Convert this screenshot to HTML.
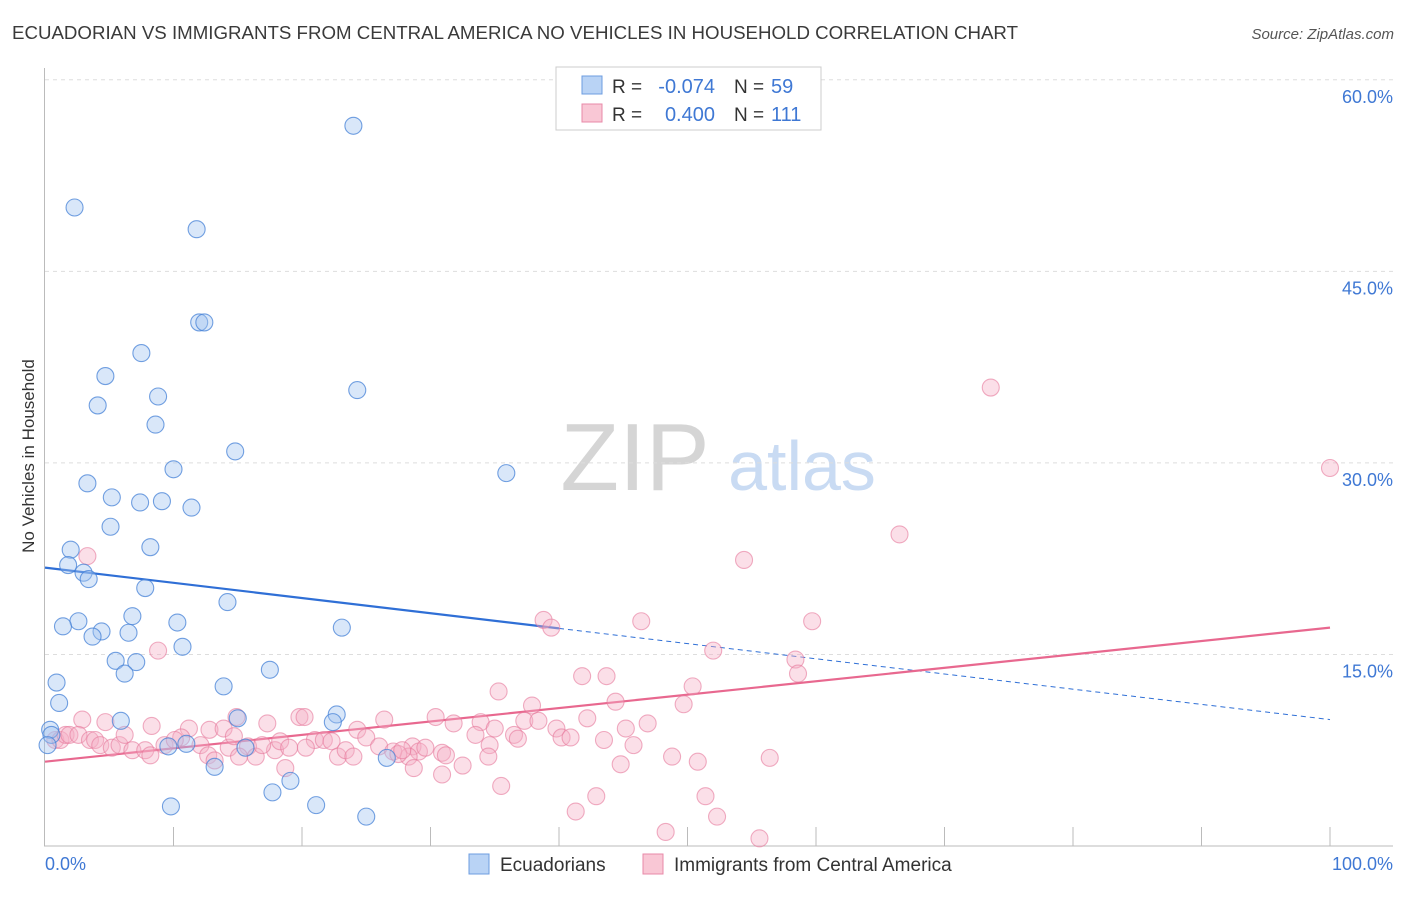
<!DOCTYPE html>
<html><head><meta charset="utf-8"><style>
body{margin:0;background:#fff;font-family:"Liberation Sans",sans-serif;}
svg text{font-family:"Liberation Sans",sans-serif;}
</style></head><body>
<svg id="chart" width="1406" height="892" xmlns="http://www.w3.org/2000/svg">
<text x="12" y="39" font-size="18" fill="#3a3a3a" textLength="1006" lengthAdjust="spacingAndGlyphs">ECUADORIAN VS IMMIGRANTS FROM CENTRAL AMERICA NO VEHICLES IN HOUSEHOLD CORRELATION CHART</text>
<text x="1394" y="39" font-size="15" fill="#555" font-style="italic" text-anchor="end">Source: ZipAtlas.com</text>
<g>
<text x="635" y="490" font-size="96" fill="#d5d5d5" font-family="Liberation Serif" text-anchor="middle">ZIP</text>
<text x="802" y="490" font-size="70" fill="#c9dbf3" text-anchor="middle">atlas</text>
</g>
<g id="grid"></g>
<g id="axes"></g>
<g id="trend"></g>
<g id="points"></g>
<text transform="translate(34,456) rotate(-90)" font-size="17" fill="#333" text-anchor="middle">No Vehicles in Household</text>
<g>
<rect x="556" y="67" width="265" height="63" fill="#fff" stroke="#ccc"/>
<rect x="582" y="76" width="20" height="18" fill="#b9d3f5" stroke="#6d9de0"/>
<rect x="582" y="104" width="20" height="18" fill="#f9c7d5" stroke="#e88aa8"/>
<text x="612" y="93" font-size="19" fill="#333">R =</text>
<text x="715" y="93" font-size="20" fill="#3f78d4" text-anchor="end">-0.074</text>
<text x="734" y="93" font-size="19" fill="#333">N =</text>
<text x="771" y="93" font-size="20" fill="#3f78d4">59</text>
<text x="612" y="121" font-size="19" fill="#333">R =</text>
<text x="715" y="121" font-size="20" fill="#3f78d4" text-anchor="end">0.400</text>
<text x="734" y="121" font-size="19" fill="#333">N =</text>
<text x="771" y="121" font-size="20" fill="#3f78d4">111</text>
</g>
<g>
<rect x="469" y="854" width="20" height="20" fill="#b9d3f5" stroke="#6d9de0"/>
<text x="500" y="871" font-size="19" fill="#333">Ecuadorians</text>
<rect x="643" y="854" width="20" height="20" fill="#f9c7d5" stroke="#e88aa8"/>
<text x="674" y="871" font-size="19" fill="#333">Immigrants from Central America</text>
</g>
</svg>
<script>
const yTicks=[15,30,45,60];
const yTickLabels=["15.0%","30.0%","45.0%","60.0%"];
const xTickLabels=["0.0%","100.0%"];
const blueX=[24.0,2.3,11.8,12.0,12.4,7.5,4.7,24.3,4.1,8.8,8.6,14.8,10.0,35.9,3.3,5.2,7.4,9.1,11.4,5.1,8.2,2.0,1.8,3.0,3.4,7.8,14.2,6.8,2.6,1.4,10.3,23.1,4.4,6.5,3.7,10.7,5.5,7.1,6.2,17.5,0.9,13.9,1.1,22.7,5.9,22.4,15.0,0.4,0.5,0.2,9.6,11.0,15.6,26.6,13.2,17.7,19.1,9.8,21.1,25.0];
const blueY=[56.4,50.0,48.3,41.0,41.0,38.6,36.8,35.7,34.5,35.2,33.0,30.9,29.5,29.2,28.4,27.3,26.9,27.0,26.5,25.0,23.4,23.2,22.0,21.4,20.9,20.2,19.1,18.0,17.6,17.2,17.5,17.1,16.8,16.7,16.4,15.6,14.5,14.4,13.5,13.8,12.8,12.5,11.2,10.3,9.8,9.7,10.0,9.1,8.7,7.9,7.8,8.0,7.7,6.9,6.2,4.2,5.1,3.1,3.2,2.3];
const pinkX=[73.6,100,66.5,54.4,3.3,38.8,39.4,46.4,59.7,8.8,52.0,58.4,58.6,41.8,43.7,35.3,50.4,44.4,49.7,37.9,42.2,46.9,45.2,2.9,4.7,8.3,14.9,17.3,19.8,20.2,26.4,30.4,31.8,33.9,37.3,38.4,39.8,11.2,12.8,10.6,13.9,15.8,17.9,18.3,21.0,21.7,22.3,24.3,25.0,28.6,29.1,28.3,29.6,33.5,35.0,34.6,36.5,36.8,40.2,40.9,43.5,45.8,48.8,50.8,56.4,0.8,1.2,1.6,1.9,2.6,3.5,3.9,4.3,5.2,5.8,6.2,6.8,7.8,8.2,9.3,10.1,12.1,12.7,13.2,14.3,15.1,16.4,16.9,19.0,20.3,22.8,23.4,24.0,26.0,27.1,27.5,27.8,30.9,31.2,32.5,34.5,28.7,30.9,35.5,42.9,44.8,51.4,41.3,52.3,48.3,55.6,18.7,14.7];
const pinkY=[35.9,29.6,24.4,22.4,22.7,17.7,17.1,17.6,17.6,15.3,15.3,14.6,13.5,13.3,13.3,12.1,12.5,11.3,11.1,11.0,10.0,9.6,9.2,9.9,9.7,9.4,10.1,9.6,10.1,10.1,9.9,10.1,9.6,9.7,9.8,9.8,9.2,9.2,9.1,8.5,9.2,7.8,7.5,8.2,8.3,8.3,8.2,9.1,8.5,7.8,7.4,7.0,7.7,8.7,9.2,7.9,8.7,8.4,8.5,8.5,8.3,7.9,7.0,6.6,6.9,8.3,8.3,8.7,8.7,8.7,8.3,8.3,7.9,7.7,7.9,8.7,7.5,7.5,7.1,7.9,8.3,7.9,7.1,6.7,7.7,7.0,7.0,7.9,7.7,7.7,7.0,7.5,7.0,7.8,7.4,7.2,7.5,7.3,7.1,6.3,7.0,6.1,5.6,4.7,3.9,6.4,3.9,2.7,2.3,1.1,0.6,6.1,8.6];
const blueTrend=[21.8,9.9];
const pinkTrend=[6.6,17.1];
const blueSolidEnd=40;

const NS="http://www.w3.org/2000/svg";
const X=v=>45+v*12.85, Y=v=>846-v*12.77;
function mk(t,a,p){const e=document.createElementNS(NS,t);for(const k in a)e.setAttribute(k,a[k]);document.getElementById(p).appendChild(e);return e;}
yTicks.forEach((t,i)=>{
 const g=mk('line',{x1:45,x2:1393,y1:Y(t),y2:Y(t),stroke:'#ddd','stroke-dasharray':'4,4'},'grid');
 
 
 const l=mk('text',{x:1393,y:Y(t)+23,'font-size':18,fill:'#3f78d4','text-anchor':'end'},'axes');
 l.textContent=yTickLabels[i];
 
 
});
const ax=mk('line',{x1:44.5,x2:44.5,y1:68,y2:846,stroke:'#bbb'},'axes');


const bx=mk('line',{x1:44,x2:1393,y1:846,y2:846,stroke:'#bbb'},'axes');


for(let i=1;i<=10;i++){const t=mk('line',{x1:X(i*10),x2:X(i*10),y1:827,y2:846,stroke:'#bbb'},'axes');
 
 }
[[0,'start',45],[100,'end',1393]].forEach((d,i)=>{const l=mk('text',{x:d[2],y:870,'font-size':18,fill:'#3f78d4','text-anchor':d[1]},'axes');l.textContent=xTickLabels[i];
 
 });
function pt(x,y,f,s,n){const c=mk('circle',{cx:X(x),cy:Y(y),r:8.5,fill:f,stroke:s,'stroke-width':1.1},'points');
 
 }
pinkX.forEach((x,i)=>pt(x,pinkY[i],'rgba(246,176,198,0.4)','rgba(230,120,155,0.6)','pink-point'));
blueX.forEach((x,i)=>pt(x,blueY[i],'rgba(160,196,240,0.4)','rgba(70,130,215,0.75)','blue-point'));
const bt=x=>blueTrend[0]+(blueTrend[1]-blueTrend[0])*x/100, pt2=x=>pinkTrend[0]+(pinkTrend[1]-pinkTrend[0])*x/100;
let l1=mk('line',{x1:X(0),y1:Y(bt(0)),x2:X(blueSolidEnd),y2:Y(bt(blueSolidEnd)),stroke:'#2f6fd6','stroke-width':2.2},'trend');


let l2=mk('line',{x1:X(blueSolidEnd),y1:Y(bt(blueSolidEnd)),x2:X(100),y2:Y(bt(100)),stroke:'#2f6fd6','stroke-width':1,'stroke-dasharray':'5,4'},'trend');


let l3=mk('line',{x1:X(0),y1:Y(pt2(0)),x2:X(100),y2:Y(pt2(100)),stroke:'#e8688f','stroke-width':2.2},'trend');


</script>
</body></html>
